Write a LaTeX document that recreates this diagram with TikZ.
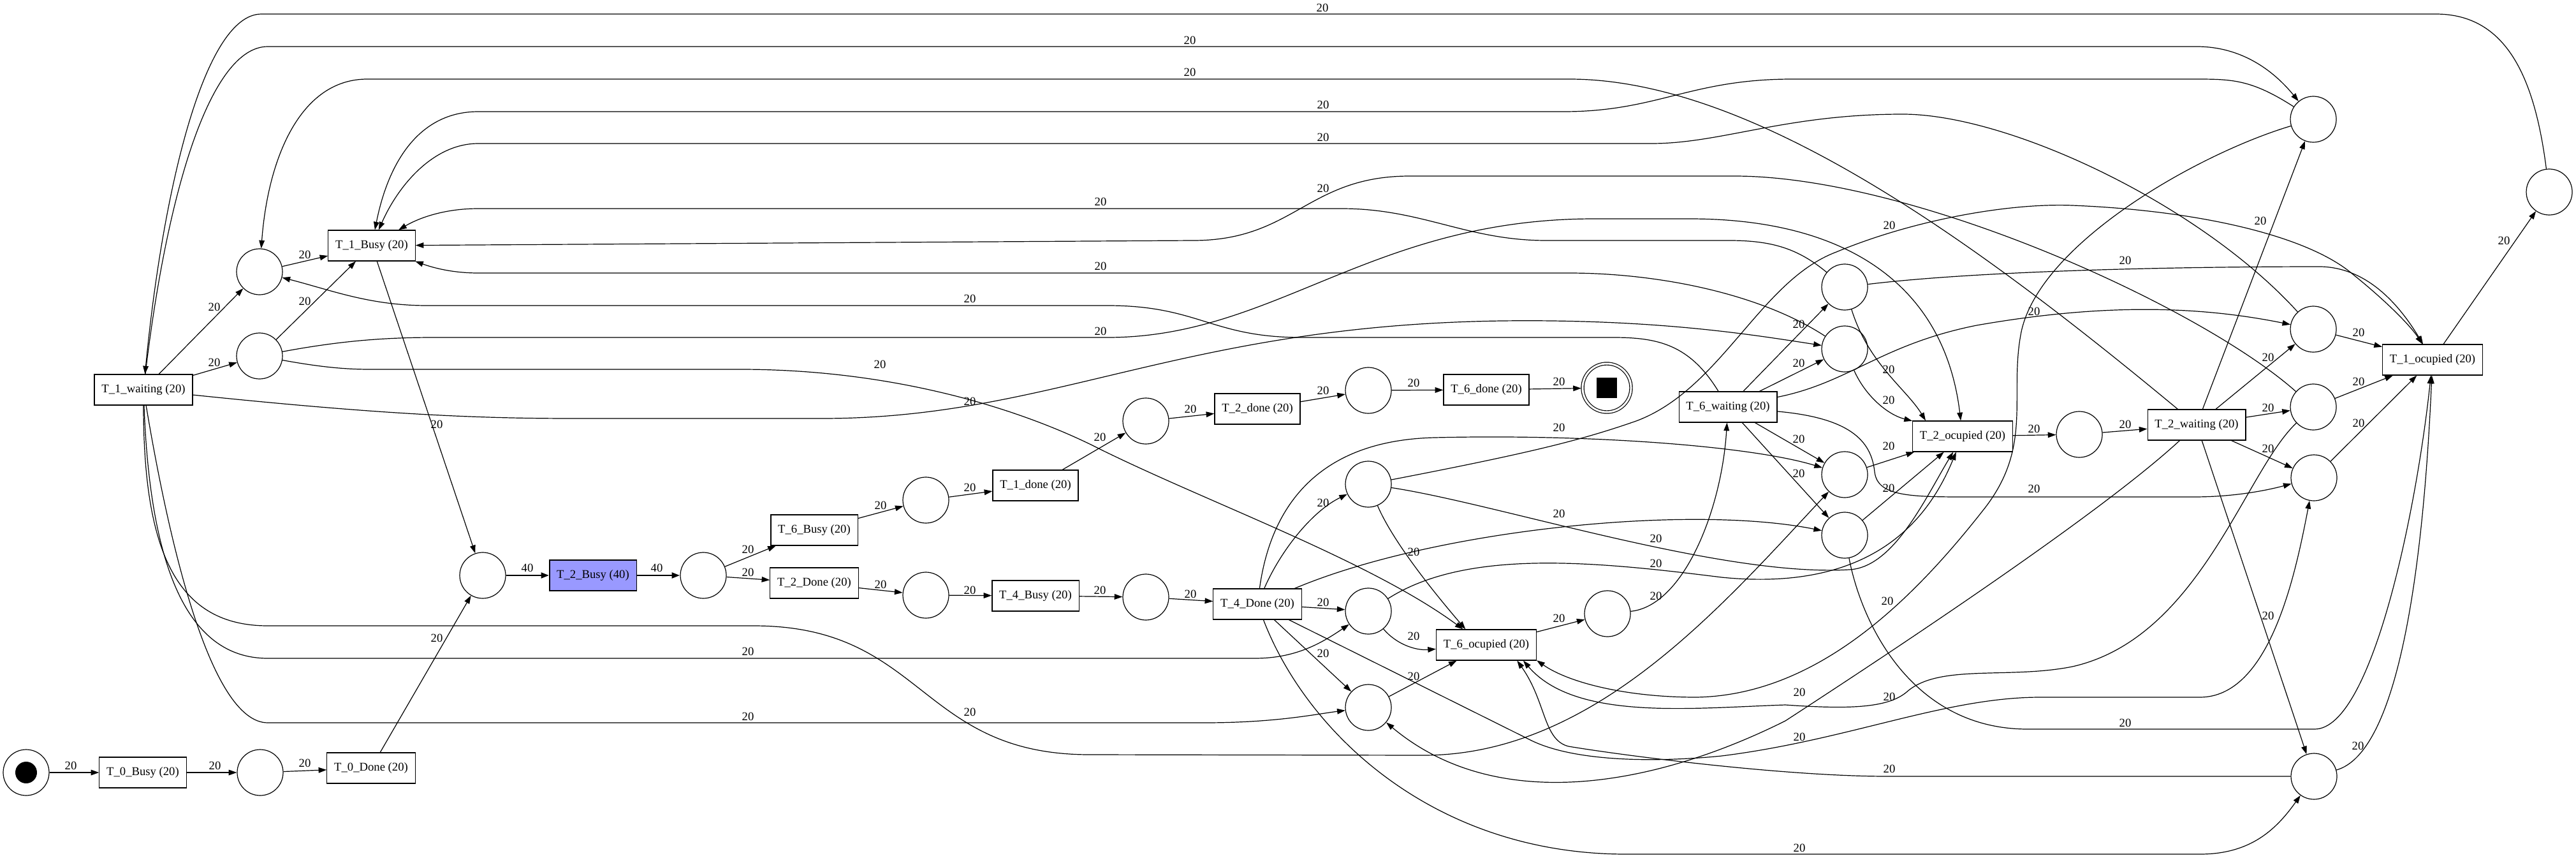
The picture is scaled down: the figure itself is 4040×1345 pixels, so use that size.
\documentclass[tikz,border=0pt]{standalone}
\usepackage{fontspec}
\setmainfont{Liberation Serif}
\usetikzlibrary{arrows.meta}
\definecolor{busyfill}{HTML}{9999FF}
\begin{document}
\begin{tikzpicture}[x=0.75pt, y=-0.75pt,
	place/.style={circle, draw, line width=0.9pt, minimum size=54pt, inner sep=0pt},
	trans/.style={rectangle, draw, line width=0.9pt, minimum height=36pt, inner xsep=8.5pt, font=\fontsize{14pt}{17pt}\selectfont},
	flow/.style={-{Triangle[length=9.5pt,width=6.5pt]}, line width=0.9pt},
	heavy/.style={flow, line width=2.2pt},
	lbl/.style={inner sep=0pt, font=\fontsize{14pt}{17pt}\selectfont}]
	\fill [white] (0,0) rectangle (4040,1345);

	\node (p0) [place] at (41,1211) {};
	\node (p0tok) [circle, fill=black, minimum size=25.5pt, inner sep=0pt] at (41,1211) {};
	\node (t0busy) [trans] at (224,1211) {T\_0\_Busy (20)};
	\node (p1) [place] at (408,1211) {};
	\node (t0done) [trans] at (582,1204) {T\_0\_Done (20)};
	\node (t1wait) [trans] at (225,611) {T\_1\_waiting (20)};
	\node (pb) [place] at (407,426) {};
	\node (pc) [place] at (407,558) {};
	\node (t1busy) [trans] at (583,385) {T\_1\_Busy (20)};
	\node (pd) [place] at (757,902) {};
	\node (t2busy) [trans, fill=busyfill] at (930,902) {T\_2\_Busy (40)};
	\node (pe) [place] at (1103,902) {};
	\node (t6busy) [trans] at (1277,831) {T\_6\_Busy (20)};
	\node (t2fin) [trans] at (1277,914) {T\_2\_Done (20)};
	\node (pf) [place] at (1452,784) {};
	\node (t1done) [trans] at (1624,761) {T\_1\_done (20)};
	\node (pg) [place] at (1797,660) {};
	\node (t2done) [trans] at (1972,641) {T\_2\_done (20)};
	\node (ph) [place] at (2146,612) {};
	\node (t6done) [trans] at (2331,611) {T\_6\_done (20)};
	\node (pend) [place, double, double distance=2.25pt, minimum size=57pt, outer sep=1.6pt] at (2520,608) {};
	\node (pendtok) [fill=black, minimum size=24pt, inner sep=0pt] at (2520,608) {};
	\node (px) [place] at (1452,933) {};
	\node (t4busy) [trans] at (1624,934) {T\_4\_Busy (20)};
	\node (pj) [place] at (1797,936) {};
	\node (t4done) [trans] at (1972,947) {T\_4\_Done (20)};
	\node (pk) [place] at (2146,759) {};
	\node (pl) [place] at (2146,958) {};
	\node (pm) [place] at (2146,1109) {};
	\node (t6occ) [trans] at (2331,1011) {T\_6\_ocupied (20)};
	\node (pn) [place] at (2521,962) {};
	\node (t6wait) [trans] at (2710,638) {T\_6\_waiting (20)};
	\node (pr) [place] at (2893,450) {};
	\node (po) [place] at (2893,547) {};
	\node (pp) [place] at (2893,744) {};
	\node (pq) [place] at (2893,839) {};
	\node (t2occ) [trans] at (3078,684) {T\_2\_ocupied (20)};
	\node (pu) [place] at (3261,681) {};
	\node (t2wait) [trans] at (3445,666) {T\_2\_waiting (20)};
	\node (ptop) [place] at (3628,187) {};
	\node (ps) [place] at (3628,516) {};
	\node (pz) [place] at (3628,638) {};
	\node (pv) [place] at (3629,749) {};
	\node (pw) [place] at (3629,1217) {};
	\node (t1occ) [trans] at (3815,564) {T\_1\_ocupied (20)};
	\node (pfar) [place] at (3998,301) {};

	\draw [flow] (p0) -- (t0busy) node [lbl] at (111,1200) {20};
	\draw [flow] (t0busy) -- (p1) node [lbl] at (337,1200) {20};
	\draw [flow] (p1) -- (t0done) node [lbl] at (478,1196) {20};
	\draw [flow] (t0done) -- (pd) node [lbl] at (685,1000) {20};
	\draw [flow] (t1wait) -- (pb) node [lbl] at (336,481) {20};
	\draw [flow] (t1wait) -- (pc) node [lbl] at (336,568) {20};
	\draw [flow] (pb) -- (t1busy) node [lbl] at (478,399) {20};
	\draw [flow] (pc) -- (t1busy) node [lbl] at (478,472) {20};
	\draw [flow] (t1busy) -- (pd) node [lbl] at (685,665) {20};
	\draw [heavy] (pd) -- (t2busy) node [lbl] at (827,890) {40};
	\draw [heavy] (t2busy) -- (pe) node [lbl] at (1030,890) {40};
	\draw [flow] (pe) -- (t6busy) node [lbl] at (1173,861) {20};
	\draw [flow] (pe) -- (t2fin) node [lbl] at (1173,897) {20};
	\draw [flow] (t6busy) -- (pf) node [lbl] at (1381,792) {20};
	\draw [flow] (pf) -- (t1done) node [lbl] at (1521,764) {20};
	\draw [flow] (t1done) -- (pg) node [lbl] at (1725,685) {20};
	\draw [flow] (pg) -- (t2done) node [lbl] at (1867,641) {20};
	\draw [flow] (t2done) -- (ph) node [lbl] at (2075,612) {20};
	\draw [flow] (ph) -- (t6done) node [lbl] at (2217,600) {20};
	\draw [flow] (t6done) -- (pend) node [lbl] at (2445,598) {20};
	\draw [flow] (t2fin) -- (px) node [lbl] at (1381,916) {20};
	\draw [flow] (px) -- (t4busy) node [lbl] at (1521,925) {20};
	\draw [flow] (t4busy) -- (pj) node [lbl] at (1725,925) {20};
	\draw [flow] (pj) -- (t4done) node [lbl] at (1867,931) {20};

	\draw [flow] (t4done) .. controls (2010,860) and (2060,800) .. (pk) node [lbl] at (2075,788) {20};
	\draw [flow] (t4done) -- (pl) node [lbl] at (2075,944) {20};
	\draw [flow] (t4done) -- (pm) node [lbl] at (2075,1024) {20};
	\draw [flow] (pk) .. controls (2185,850) and (2250,930) .. (t6occ.143) node [lbl] at (2217,865) {20};
	\draw [flow] (pl) .. controls (2190,1010) and (2220,1020) .. (t6occ) node [lbl] at (2217,997) {20};
	\draw [flow] (pm) -- (t6occ) node [lbl] at (2217,1060) {20};
	\draw [flow] (t6occ) -- (pn) node [lbl] at (2445,969) {20};
	\draw [flow] (pn) .. controls (2640,950) and (2700,800) .. (t6wait) node [lbl] at (2597,934) {20};
	\draw [flow] (t6wait) -- (pr) node [lbl] at (2821,508) {20};
	\draw [flow] (t6wait) -- (po) node [lbl] at (2821,569) {20};
	\draw [flow] (t6wait) -- (pp) node [lbl] at (2821,688) {20};
	\draw [flow] (t6wait) -- (pq) node [lbl] at (2821,742) {20};
	\draw [flow] (pr) .. controls (2930,570) and (2990,610) .. (t2occ.157) node [lbl] at (2962,579) {20};
	\draw [flow] (po) .. controls (2925,620) and (2960,650) .. (t2occ.163) node [lbl] at (2962,627) {20};
	\draw [flow] (pp) -- (t2occ) node [lbl] at (2962,699) {20};
	\draw [flow] (pq) -- (t2occ) node [lbl] at (2962,765) {20};
	\draw [flow] (t2occ) -- (pu) node [lbl] at (3190,672) {20};
	\draw [flow] (pu) -- (t2wait) node [lbl] at (3333,665) {20};
	\draw [flow] (t2wait) -- (ptop) node [lbl] at (3545,346) {20};
	\draw [flow] (t2wait) -- (ps) node [lbl] at (3557,560) {20};
	\draw [flow] (t2wait) -- (pz) node [lbl] at (3557,639) {20};
	\draw [flow] (t2wait) -- (pv) node [lbl] at (3557,703) {20};
	\draw [flow] (t2wait) -- (pw) node [lbl] at (3557,965) {20};
	\draw [flow] (ps) -- (t1occ) node [lbl] at (3699,521) {20};
	\draw [flow] (pz) -- (t1occ) node [lbl] at (3699,598) {20};
	\draw [flow] (pv) -- (t1occ) node [lbl] at (3699,663) {20};
	\draw [flow] (pw) .. controls (3760,1180) and (3800,900) .. (t1occ) node [lbl] at (3698,1169) {20};
	\draw [flow] (t1occ) -- (pfar) node [lbl] at (3927,377) {20};

	\draw [flow] (pfar) .. controls (3975,120) and (3930,22) .. (3820,22) -- (410,22) .. controls (320,22) and (255,300) .. (t1wait) node [lbl] at (2074,12) {20};
	\draw [flow] (t1wait) .. controls (262,300) and (330,73) .. (420,73) -- (3445,73) .. controls (3515,73) and (3565,110) .. (ptop) node [lbl] at (1866,63) {20};
	\draw [flow] (t2wait) .. controls (3100,380) and (2750,124) .. (2461,124) -- (576,124) .. controls (470,124) and (420,250) .. (pb) node [lbl] at (1866,113) {20};
	\draw [flow] (ptop) .. controls (3530,124) and (3500,124) .. (3440,124) -- (2811,124) .. controls (2650,124) and (2600,175) .. (2452,175) -- (750,175) .. controls (660,175) and (610,250) .. (t1busy) node [lbl] at (2075,164) {20};
	\draw [flow] (ps) .. controls (3450,320) and (3150,179) .. (2984,179) .. controls (2800,179) and (2700,225) .. (2590,225) -- (750,225) .. controls (680,225) and (625,290) .. (t1busy) node [lbl] at (2075,215) {20};
	\draw [flow] (pr) .. controls (2820,390) and (2780,377) .. (2712,377) -- (2425,377) .. controls (2300,377) and (2230,327) .. (2104,327) -- (750,327) .. controls (700,327) and (660,340) .. (t1busy) node [lbl] at (1726,316) {20};
	\draw [flow] (pz) .. controls (3450,480) and (3000,276) .. (2720,276) -- (2211,276) .. controls (2050,276) and (2030,377) .. (1871,377) -- (t1busy) node [lbl] at (2075,295) {20};
	\draw [flow] (po) .. controls (2760,460) and (2600,428) .. (2460,428) -- (750,428) .. controls (710,428) and (680,420) .. (t1busy) node [lbl] at (1726,417) {20};
	\draw [flow] (t6wait) .. controls (2650,540) and (2600,529) .. (2530,529) -- (2041,529) .. controls (1900,529) and (1880,479) .. (1737,479) -- (670,479) .. controls (580,479) and (520,455) .. (pb) node [lbl] at (1521,468) {20};
	\draw [flow] (pc) .. controls (530,535) and (600,529) .. (680,529) -- (1737,529) .. controls (2000,529) and (2150,343) .. (2500,343) -- (2650,343) .. controls (2900,343) and (3050,450) .. (t2occ) node [lbl] at (1726,519) {20};
	\draw [flow] (pc) .. controls (500,575) and (540,579) .. (580,579) -- (1161,579) .. controls (1400,579) and (1600,640) .. (1727,705) .. controls (1900,790) and (2150,880) .. (t6occ.146) node [lbl] at (1380,571) {20};
	\draw [flow] (t1wait) .. controls (600,650) and (750,656) .. (900,656) -- (1289,656) .. controls (1650,656) and (1850,510) .. (2355,503) .. controls (2600,500) and (2750,525) .. (po) node [lbl] at (1521,629) {20};
	\draw [flow] (t1wait) .. controls (225,870) and (280,981) .. (420,981) -- (1182,981) .. controls (1450,981) and (1440,1183) .. (1709,1183) -- (2232,1184) .. controls (2500,1184) and (2700,950) .. (pp) node [lbl] at (1521,1116) {20};
	\draw [flow] (t1wait) .. controls (235,880) and (290,1032) .. (420,1032) -- (1968,1032) .. controls (2030,1032) and (2070,1010) .. (pl) node [lbl] at (1173,1021) {20};
	\draw [flow] (t1wait) .. controls (265,850) and (330,1133) .. (420,1133) -- (1888,1133) .. controls (2000,1133) and (2060,1120) .. (pm) node [lbl] at (1173,1123) {20};

	\draw [flow] (t4done) .. controls (1995,780) and (2080,690) .. (2250,686) .. controls (2500,680) and (2750,700) .. (pp) node [lbl] at (2445,670) {20};
	\draw [flow] (t4done) .. controls (2250,830) and (2650,790) .. (pq) node [lbl] at (2445,805) {20};
	\draw [flow] (pk) .. controls (2350,790) and (2700,905) .. (2900,893) .. controls (2970,890) and (3020,780) .. (t2occ) node [lbl] at (2597,844) {20};
	\draw [flow] (pl) .. controls (2300,860) and (2500,880) .. (2700,905) .. controls (2950,930) and (3030,800) .. (t2occ) node [lbl] at (2597,883) {20};
	\draw [flow] (pk) .. controls (2400,710) and (2480,690) .. (2566,660) .. controls (2700,610) and (2760,440) .. (2880,395) .. controls (3000,345) and (3150,318) .. (3250,322) .. controls (3450,330) and (3620,370) .. (3690,430) .. controls (3740,470) and (3780,510) .. (t1occ) node [lbl] at (2963,353) {20};
	\draw [flow] (pr) .. controls (3100,425) and (3400,418) .. (3640,418) .. controls (3720,420) and (3770,490) .. (t1occ) node [lbl] at (3333,408) {20};
	\draw [flow] (t6wait) .. controls (2900,600) and (2950,540) .. (3100,510) .. controls (3300,475) and (3450,480) .. (ps) node [lbl] at (3190,488) {20};
	\draw [flow] (t6wait) .. controls (2900,655) and (2935,690) .. (2940,740) .. controls (2945,780) and (3000,779) .. (3100,779) -- (3440,779) .. controls (3500,779) and (3550,770) .. (pv) node [lbl] at (3190,766) {20};
	\draw [flow] (ptop) .. controls (3450,240) and (3200,380) .. (3170,520) .. controls (3150,620) and (3190,700) .. (3110,800) .. controls (3000,940) and (2850,1090) .. (2660,1093) .. controls (2550,1093) and (2460,1070) .. (t6occ.-17) node [lbl] at (2960,942) {20};
	\draw [flow] (pz) .. controls (3520,740) and (3450,1000) .. (3250,1045) .. controls (3150,1065) and (3040,1040) .. (2990,1085) .. controls (2960,1110) and (2900,1112) .. (2800,1105) .. controls (2650,1110) and (2470,1130) .. (t6occ.-23) node [lbl] at (2963,1092) {20};
	\draw [flow] (pw) -- (2960,1217) .. controls (2800,1217) and (2550,1185) .. (2460,1170) .. controls (2420,1160) and (2425,1100) .. (t6occ.-27) node [lbl] at (2963,1205) {20};
	\draw [flow] (t4done) -- (2400,1160) .. controls (2470,1195) and (2600,1195) .. (2700,1185) .. controls (2900,1160) and (3050,1093) .. (3200,1093) -- (3450,1093) .. controls (3560,1093) and (3600,900) .. (pv) node [lbl] at (2822,1155) {20};
	\draw [flow] (t4done) .. controls (2050,1150) and (2250,1339) .. (2550,1339) -- (3450,1339) .. controls (3530,1339) and (3570,1300) .. (pw) node [lbl] at (2822,1329) {20};
	\draw [flow] (t2wait) .. controls (3300,800) and (3000,1000) .. (2800,1130) .. controls (2600,1230) and (2350,1280) .. (pm) node [lbl] at (2822,1085) {20};
	\draw [flow] (pq) .. controls (2920,980) and (3000,1143) .. (3180,1143) -- (3630,1143) .. controls (3720,1143) and (3790,800) .. (t1occ) node [lbl] at (3333,1133) {20};
\end{tikzpicture}
\end{document}
